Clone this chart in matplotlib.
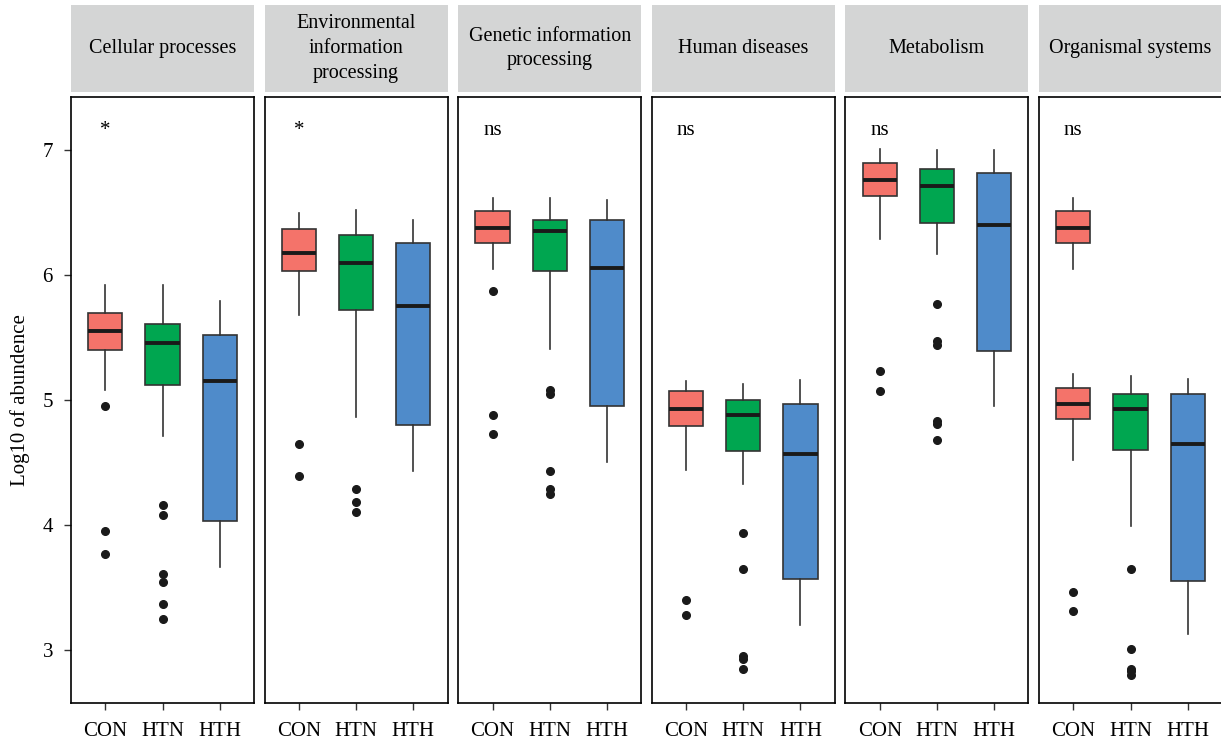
import numpy as np
import matplotlib
matplotlib.use("Agg")
from matplotlib import pyplot as plt

plt.rcParams["font.family"] = ["Liberation Serif", "DejaVu Serif"]

facets = ["Cellular processes", "Environmental\ninformation\nprocessing",
          "Genetic information\nprocessing", "Human diseases", "Metabolism",
          "Organismal systems"]
groups = ["CON", "HTN", "HTH"]
colors = ["#F4736A", "#00A650", "#4F8BCA"]
signif = ["*", "*", "ns", "ns", "ns", "ns"]

# per facet: CON, HTN, HTH
whishi = [[5.92, 5.92, 5.79], [6.50, 6.52, 6.44], [6.62, 6.62, 6.60],
          [5.15, 5.13, 5.16], [7.01, 7.00, 7.00], [5.21, 5.19, 5.17]]
q3 = [[5.70, 5.61, 5.52], [6.37, 6.32, 6.26], [6.51, 6.44, 6.44],
      [5.07, 5.00, 4.97], [6.90, 6.85, 6.82], [5.10, 5.05, 5.05]]
med = [[5.55, 5.46, 5.15], [6.18, 6.10, 5.75], [6.38, 6.35, 6.06],
       [4.93, 4.88, 4.57], [6.76, 6.71, 6.40], [4.97, 4.93, 4.65]]
q1 = [[5.40, 5.12, 4.03], [6.03, 5.72, 4.80], [6.26, 6.03, 4.95],
      [4.79, 4.59, 3.57], [6.63, 6.42, 5.395], [4.85, 4.60, 3.55]]
whislo = [[5.08, 4.71, 3.66], [5.68, 4.86, 4.43], [6.05, 5.41, 4.50],
          [4.44, 4.33, 3.20], [6.29, 6.17, 4.95], [4.52, 3.99, 3.13]]
outliers = [
    [[4.95, 3.95, 3.77], [4.16, 4.08, 3.61, 3.54, 3.37, 3.25], []],
    [[4.645, 4.39], [4.29, 4.18, 4.10], []],
    [[5.87, 4.88, 4.73], [5.08, 5.05, 4.43, 4.29, 4.25], []],
    [[3.40, 3.28], [3.935, 3.65, 2.95, 2.93, 2.85], []],
    [[5.23, 5.07], [5.77, 5.47, 5.44, 4.83, 4.81, 4.68], []],
    [[3.46, 3.31], [3.645, 3.01, 2.85, 2.83, 2.80], []],
]
# second CON box drawn in the "Organismal systems" facet
extra_con = dict(whishi=6.62, q3=6.51, med=6.38, q1=6.26, whislo=6.05)

W, H = 1221, 741
fig = plt.figure(figsize=(W / 100, H / 100), dpi=100)

ptop, pbot = 97, 703
stop, sbot = 5, 92
pw = 183

box_kw = dict(widths=0.6, patch_artist=True, showcaps=False,
              boxprops=dict(edgecolor="#333333", linewidth=1.2),
              whiskerprops=dict(color="#333333", linewidth=1.2),
              medianprops=dict(color="#1a1a1a", linewidth=2.8),
              flierprops=dict(marker="o", markerfacecolor="#1a1a1a",
                              markeredgecolor="#1a1a1a", markersize=5.5))

for i, name in enumerate(facets):
    left = 71 + i * 193.6
    ax = fig.add_axes([left / W, (H - pbot) / H, pw / W, (pbot - ptop) / H])
    stats = []
    for j in range(3):
        stats.append(dict(med=med[i][j], q1=q1[i][j], q3=q3[i][j],
                          whislo=whislo[i][j], whishi=whishi[i][j],
                          fliers=outliers[i][j]))
    bp = ax.bxp(stats, positions=[1, 2, 3], **box_kw)
    for patch, c in zip(bp["boxes"], colors):
        patch.set_facecolor(c)
    if i == 5:
        e = dict(extra_con, fliers=[])
        bp2 = ax.bxp([e], positions=[1], **box_kw)
        bp2["boxes"][0].set_facecolor(colors[0])

    ax.text(1, 7.16, signif[i], ha="center", va="center", fontsize=15)

    ax.set_xlim(0.4, 3.6)
    ax.set_ylim(2.575, 7.425)
    ax.set_xticks([1, 2, 3])
    ax.set_xticklabels(groups, fontsize=15)
    ax.tick_params(axis="x", length=5, width=1, color="#333333", pad=8.5)
    for sp in ax.spines.values():
        sp.set_linewidth(1.2)
        sp.set_color("black")
    if i == 0:
        ax.set_yticks([3, 4, 5, 6, 7])
        ax.tick_params(axis="y", labelsize=15, length=5, width=1,
                       color="#333333", pad=8)
        ax.set_ylabel("Log10 of abundence", fontsize=15, labelpad=9)
    else:
        ax.set_yticks([])

    sax = fig.add_axes([left / W, (H - sbot) / H, pw / W, (sbot - stop) / H])
    sax.set_facecolor("#D4D5D5")
    sax.set_xticks([])
    sax.set_yticks([])
    for sp in sax.spines.values():
        sp.set_visible(False)
    sax.text(0.5, 0.5, name, ha="center", va="center", fontsize=14.5,
             linespacing=1.42, transform=sax.transAxes)

fig.savefig("out.png", dpi=100)
